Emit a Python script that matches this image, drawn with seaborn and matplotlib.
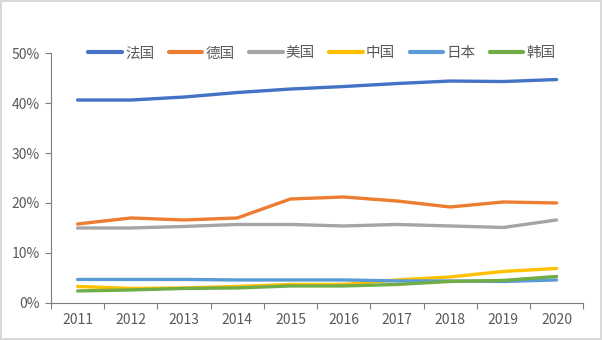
import matplotlib
matplotlib.use("Agg")
import matplotlib.pyplot as plt
import seaborn as sns
import pandas as pd
from matplotlib.ticker import FixedLocator, FuncFormatter

years = ["2011", "2012", "2013", "2014", "2015", "2016", "2017", "2018", "2019", "2020"]
france = [40.6, 40.6, 41.2, 42.1, 42.8, 43.3, 43.9, 44.4, 44.3, 44.7]
germany = [15.8, 17.0, 16.6, 17.0, 20.8, 21.2, 20.4, 19.2, 20.2, 20.0]
usa = [15.0, 15.0, 15.3, 15.7, 15.7, 15.4, 15.7, 15.4, 15.1, 16.6]
china = [3.3, 2.9, 3.0, 3.3, 3.7, 3.7, 4.6, 5.2, 6.3, 6.9]
japan = [4.7, 4.7, 4.7, 4.6, 4.6, 4.6, 4.4, 4.4, 4.3, 4.6]
korea = [2.4, 2.6, 2.9, 3.0, 3.4, 3.4, 3.7, 4.3, 4.5, 5.3]
names = ["法国", "德国", "美国", "中国", "日本", "韩国"]
colors = ["#4472C4", "#ED7D31", "#A5A5A5", "#FFC000", "#5B9BD5", "#70AD47"]

series = [france, germany, usa, china, japan, korea]
rows = []
for n, vals in zip(names, series):
    for i, v in enumerate(vals):
        rows.append({"idx": i, "val": v, "country": n})
df = pd.DataFrame(rows)

sns.set_theme(style="white")
plt.rcParams["font.family"] = ["Noto Sans CJK SC", "DejaVu Sans"]

fig = plt.figure(figsize=(6.02, 3.4), dpi=100)
fig.patch.set_edgecolor("#D9D9D9")
fig.patch.set_linewidth(1.5)
ax = fig.add_axes([0.0847, 0.109, 0.884, 0.735])

sns.lineplot(data=df, x="idx", y="val", hue="country", hue_order=names,
             palette=colors, linewidth=2.4, ax=ax, legend=True)

ax.set_xlim(-0.5, 9.5)
ax.set_ylim(0, 50)
ax.set_yticks([0, 10, 20, 30, 40, 50])
ax.yaxis.set_major_formatter(FuncFormatter(lambda v, p: f"{int(v)}%"))
ax.set_xticks(range(10))
ax.set_xticklabels(years)
ax.xaxis.set_minor_locator(FixedLocator([i - 0.5 for i in range(11)]))
ax.tick_params(axis="x", which="major", length=0, pad=7, labelsize=10, labelcolor="#595959")
ax.tick_params(axis="x", which="minor", length=4, color="#7F7F7F", width=0.8, bottom=True)
ax.tick_params(axis="y", which="major", length=4, color="#7F7F7F", width=0.8, left=True,
               labelsize=10, labelcolor="#595959", pad=4)
ax.set_xlabel("")
ax.set_ylabel("")
for s in ["top", "right"]:
    ax.spines[s].set_visible(False)
for s in ["left", "bottom"]:
    ax.spines[s].set_color("#7F7F7F")
    ax.spines[s].set_linewidth(0.8)

handles, labels = ax.get_legend_handles_labels()
ax.get_legend().remove()
leg = fig.legend(handles, labels, loc="center", bbox_to_anchor=(0.535, 0.843), ncol=6,
                 frameon=False, fontsize=10.5, handlelength=2.3, columnspacing=1.0,
                 handletextpad=0.2)
for t in leg.get_texts():
    t.set_color("#595959")
for l in leg.get_lines():
    l.set_linewidth(3)

fig.savefig("out.png", dpi=100)
